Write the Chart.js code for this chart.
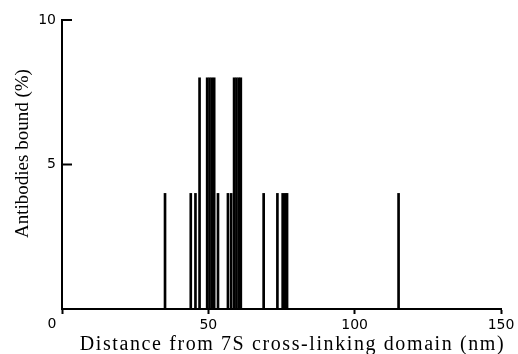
<!DOCTYPE html>
<html>
<head>
<meta charset="utf-8">
<script src="https://cdn.jsdelivr.net/npm/chart.js"></script>
<style>
  html, body { margin: 0; padding: 0; background: #fff; }
</style>
</head>
<body>
<canvas id="chart" width="518" height="354"></canvas>
<script>
// Distance (nm) of each antibody from the 7S domain, and % bound there
const distances = [35.2, 44.0, 45.6, 47.0, 49.6, 50.4, 51.2, 52.0, 53.3, 56.7, 57.8,
                   58.8, 59.6, 60.4, 61.1, 68.9, 73.6, 75.4, 76.3, 76.9, 115.0];
const boundPct  = [4, 4, 4, 8, 8, 8, 8, 8, 4, 4, 4,
                   8, 8, 8, 8, 4, 4, 4, 4, 4, 4];
const xTicks = [0, 50, 100, 150];
const yTicks = [0, 5, 10];
const xTitle = 'Distance from 7S cross-linking domain (nm)';
const yTitle = 'Antibodies bound (%)';

const tickFont = { family: '"DejaVu Sans"', size: 14 };

// inward y ticks, the shared "0" left of the origin, and the serif axis titles
const axisDecor = {
  id: 'axisDecor',
  afterDraw(chart) {
    const { ctx, scales: { x, y } } = chart;
    ctx.save();
    ctx.strokeStyle = '#000';
    ctx.lineWidth = 2;
    yTicks.filter(v => v > 0).forEach(v => {
      const py = y.getPixelForValue(v);
      ctx.beginPath();
      ctx.moveTo(x.left, py);
      ctx.lineTo(x.left + 10, py);
      ctx.stroke();
    });
    ctx.fillStyle = '#000';
    ctx.font = '14px "DejaVu Sans"';
    ctx.textAlign = 'center';
    ctx.textBaseline = 'top';
    ctx.fillText('0', x.getPixelForValue(0) - 10, x.top + 8);

    ctx.textBaseline = 'alphabetic';
    ctx.font = '20px "Liberation Serif"';
    ctx.letterSpacing = '1.6px';
    ctx.fillText(xTitle, (x.left + x.right) / 2 + 11, 350);

    ctx.font = '19px "Liberation Serif"';
    ctx.letterSpacing = '0px';
    ctx.translate(28, (y.top + y.bottom) / 2 - 11);
    ctx.rotate(-Math.PI / 2);
    ctx.fillText(yTitle, 0, 0);
    ctx.restore();
  }
};

new Chart(document.getElementById('chart'), {
  type: 'bar',
  data: {
    datasets: [{
      data: distances.map((d, i) => ({ x: d, y: boundPct[i] })),
      backgroundColor: '#000',
      borderWidth: 0,
      barThickness: 2
    }]
  },
  options: {
    responsive: false,
    animation: false,
    layout: { padding: { left: 0, right: 17, top: 20, bottom: 0 } },
    plugins: { legend: { display: false }, tooltip: { enabled: false } },
    scales: {
      x: {
        type: 'linear',
        offset: false,
        min: 0, max: 150,
        afterBuildTicks: s => { s.ticks = xTicks.map(v => ({ value: v })); },
        afterFit: s => { s.height = 45; },
        ticks: {
          color: '#000', font: tickFont, maxRotation: 0,
          callback: v => v === 0 ? '' : v
        },
        grid: { offset: false, drawOnChartArea: false, tickLength: 5, tickWidth: 2, tickColor: '#000' },
        border: { color: '#000', width: 2 }
      },
      y: {
        min: 0, max: 10,
        afterBuildTicks: s => { s.ticks = yTicks.map(v => ({ value: v })); },
        afterFit: s => { s.width = 62; },
        ticks: {
          color: '#000', font: tickFont, padding: 6,
          callback: v => v === 0 ? '' : v
        },
        grid: { display: true, drawOnChartArea: false, drawTicks: false },
        border: { color: '#000', width: 2 }
      }
    }
  },
  plugins: [axisDecor]
});
</script>
</body>
</html>
